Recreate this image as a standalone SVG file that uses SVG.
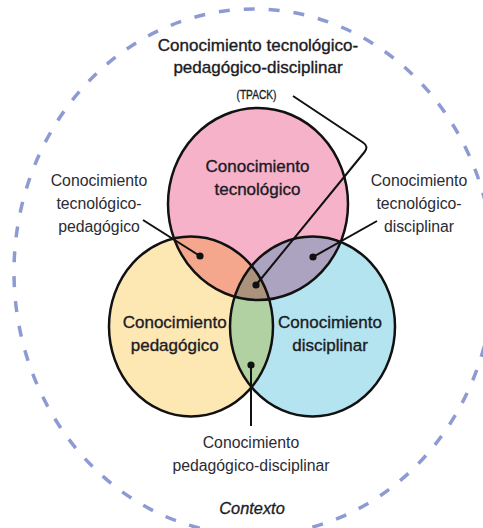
<svg xmlns="http://www.w3.org/2000/svg" width="483" height="528" viewBox="0 0 483 528">
<style>
.ring{fill:none;stroke:#111;stroke-width:2.5}
.ctx{fill:none;stroke:#8e9ad2;stroke-width:3.5;stroke-dasharray:11 14}
.lead{fill:none;stroke:#111;stroke-width:2;stroke-linejoin:round}
.dot{fill:#111}
text{font-family:"Liberation Sans",Arial,Helvetica,sans-serif;text-anchor:middle}
.m{font-size:17px;fill:#1b1b25;stroke:#1b1b25;stroke-width:0.35}
.s{font-size:15.8px;fill:#2b2b33}
.it{font-size:16.4px;font-style:italic;fill:#1b1b25;stroke:#1b1b25;stroke-width:0.3}
.tp{font-size:13px;fill:#1b1b25;stroke:#1b1b25;stroke-width:0.35}
</style>
<defs>
<clipPath id="cT"><ellipse cx="258" cy="204" rx="90" ry="96"/></clipPath>
<clipPath id="cP"><ellipse cx="191" cy="326.5" rx="82" ry="90"/></clipPath>
</defs>
<rect width="483" height="528" fill="#fff"/>
<g id="contexto">
<ellipse class="ctx" cx="254" cy="272" rx="240" ry="263"/>
<text class="it" x="252" y="514">Contexto</text>
</g>
<g id="pk">
<ellipse cx="191" cy="326.5" rx="82" ry="90" fill="#fde8b4"/>
</g>
<g id="ck">
<ellipse cx="312.5" cy="326.5" rx="82.5" ry="90" fill="#b3e4ef"/>
</g>
<g id="tk">
<ellipse cx="258" cy="204" rx="90" ry="96" fill="#f6b2c9"/>
</g>
<g id="overlaps">
<g clip-path="url(#cT)"><ellipse cx="191" cy="326.5" rx="82" ry="90" fill="#f5a78d"/></g>
<g clip-path="url(#cT)"><ellipse cx="312.5" cy="326.5" rx="82.5" ry="90" fill="#aba3bf"/></g>
<g clip-path="url(#cP)"><ellipse cx="312.5" cy="326.5" rx="82.5" ry="90" fill="#b1d1a2"/></g>
<g clip-path="url(#cT)"><g clip-path="url(#cP)"><ellipse cx="312.5" cy="326.5" rx="82.5" ry="90" fill="#aa927d"/></g></g>
</g>
<g id="outlines">
<ellipse class="ring" cx="191" cy="326.5" rx="82" ry="90"/>
<ellipse class="ring" cx="312.5" cy="326.5" rx="82.5" ry="90"/>
<ellipse class="ring" cx="258" cy="204" rx="90" ry="96"/>
</g>
<g id="connectors">
<path class="lead" d="M293,96 L363,142.5 Q369,146.5 364.5,152 L256,285"/>
<line class="lead" x1="143" y1="220" x2="200" y2="256"/>
<line class="lead" x1="377" y1="221" x2="313" y2="257"/>
<line class="lead" x1="251" y1="365" x2="251" y2="426"/>
<circle class="dot" cx="256" cy="285" r="3.6"/>
<circle class="dot" cx="200" cy="256" r="3.6"/>
<circle class="dot" cx="313" cy="257" r="3.6"/>
<circle class="dot" cx="251" cy="365" r="3.6"/>
</g>
<g id="tk-label">
<text class="m" x="257.5" y="172">Conocimiento</text>
<text class="m" x="257.5" y="195">tecnológico</text>
</g>
<g id="pk-label">
<text class="m" x="174.7" y="328">Conocimiento</text>
<text class="m" x="174.7" y="351">pedagógico</text>
</g>
<g id="ck-label">
<text class="m" x="330" y="328">Conocimiento</text>
<text class="m" x="330" y="351">disciplinar</text>
</g>
<g id="tpack">
<text class="m" x="258" y="50.7">Conocimiento tecnológico-</text>
<text class="m" x="258" y="72.5">pedagógico-disciplinar</text>
<text class="tp" x="256.5" y="98.5" textLength="40" lengthAdjust="spacingAndGlyphs">(TPACK)</text>
</g>
<g id="tpk">
<text class="s" x="99" y="185.5">Conocimiento</text>
<text class="s" x="99" y="208.5">tecnológico-</text>
<text class="s" x="99" y="231.5">pedagógico</text>
</g>
<g id="tck">
<text class="s" x="419" y="185.5">Conocimiento</text>
<text class="s" x="419" y="208.5">tecnológico-</text>
<text class="s" x="419" y="231.5">disciplinar</text>
</g>
<g id="pck">
<text class="s" x="251" y="447.5">Conocimiento</text>
<text class="s" x="251" y="471">pedagógico-disciplinar</text>
</g>
</svg>
